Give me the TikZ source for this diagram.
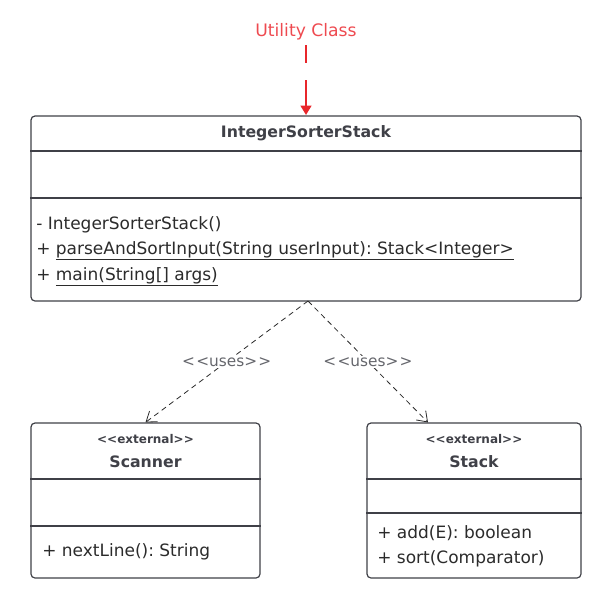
\documentclass[tikz,border=0pt]{standalone}
\usepackage{fontspec}
\setmainfont{DejaVu Sans}
\usetikzlibrary{arrows.meta}
\frenchspacing
\definecolor{umlgray}{HTML}{3F4047}
\definecolor{umltext}{HTML}{2B2B2B}
\definecolor{umlred}{HTML}{E8262B}
\definecolor{umlnote}{HTML}{EE4A50}
\tikzstyle{classbox} = [rectangle, rounded corners=3pt, draw=umlgray, line width=0.9pt, inner sep=0pt]
\tikzstyle{classname} = [font=\bfseries\fontsize{11.8}{14}\selectfont, text=umlgray]
\tikzstyle{stereo} = [font=\bfseries\fontsize{9}{11}\selectfont, text=umlgray]
\tikzstyle{member} = [anchor=west, inner sep=0pt, font=\fontsize{12.75}{15}\selectfont, text=umltext]
\tikzstyle{divider} = [draw=umlgray, line width=0.9pt]
\tikzstyle{uses} = [dash pattern=on 4pt off 3pt, draw=umltext, line width=0.6pt, -{Straight Barb[length=7pt,width=10pt]}]
\tikzstyle{useslabel} = [fill=white, inner sep=1pt, font=\fontsize{11.5}{14}\selectfont, text=umlgray!80!white]

\begin{document}
\begin{tikzpicture}[x=0.75pt,y=-0.75pt]
\useasboundingbox (0,0) rectangle (604,597);

% note on top
\node (utility) [text=umlnote, font=\fontsize{12.9}{15}\selectfont] at (306,32) {Utility Class};
\coordinate (utilend) at (306,115);

% main class
\node (main) [classbox, minimum width=412.5pt, minimum height=138.75pt] at (306,208.5) {};
\node (mainname) [classname] at (306,133) {IntegerSorterStack};
\draw [divider] (main.west |- 0,151) -- (main.east |- 0,151);
\draw [divider] (main.west |- 0,198) -- (main.east |- 0,198);
\node (ctor) [member] at (36,225) {- IntegerSorterStack()};
\node (parse) [member] at (36,251) {+ \underline{parseAndSortInput(String userInput): Stack<Integer>}};
\node (mainm) [member] at (36,277) {+ \underline{main(String[] args)}};

% Scanner
\node (scanner) [classbox, minimum width=171.75pt, minimum height=116.25pt] at (145.5,500.5) {};
\node (scanstereo) [stereo] at (145.5,439) {{<}{<}external{>}{>}};
\node (scanname) [classname] at (145.5,462) {Scanner};
\draw [divider] (scanner.west |- 0,479) -- (scanner.east |- 0,479);
\draw [divider] (scanner.west |- 0,526) -- (scanner.east |- 0,526);
\node (nextline) [member] at (42,552) {+ nextLine(): String};

% Stack
\node (stack) [classbox, minimum width=160.5pt, minimum height=116.25pt] at (474,500.5) {};
\node (stackstereo) [stereo] at (474,439) {{<}{<}external{>}{>}};
\node (stackname) [classname] at (474,462) {Stack};
\draw [divider] (stack.west |- 0,479) -- (stack.east |- 0,479);
\draw [divider] (stack.west |- 0,513) -- (stack.east |- 0,513);
\node (add) [member] at (377,533) {+ add(E): boolean};
\node (sort) [member] at (377,559) {+ sort(Comparator)};

% connectors
\draw [draw=umlred, line width=1.5pt, dash pattern=on 13.5pt off 12.75pt on 40pt, -{Triangle[length=7pt,width=8pt]}] (utility) -- (utilend);
\coordinate (src) at (308,301);
\draw [uses] (src) -- (scanner.north) node [pos=0.5, useslabel] {{<}\kern1pt{<}uses{>}\kern1pt{>}};
\draw [uses] (src) -- ([xshift=-34.5pt]stack.north) node [pos=0.5, useslabel] {{<}\kern1pt{<}uses{>}\kern1pt{>}};

\end{tikzpicture}
\end{document}
